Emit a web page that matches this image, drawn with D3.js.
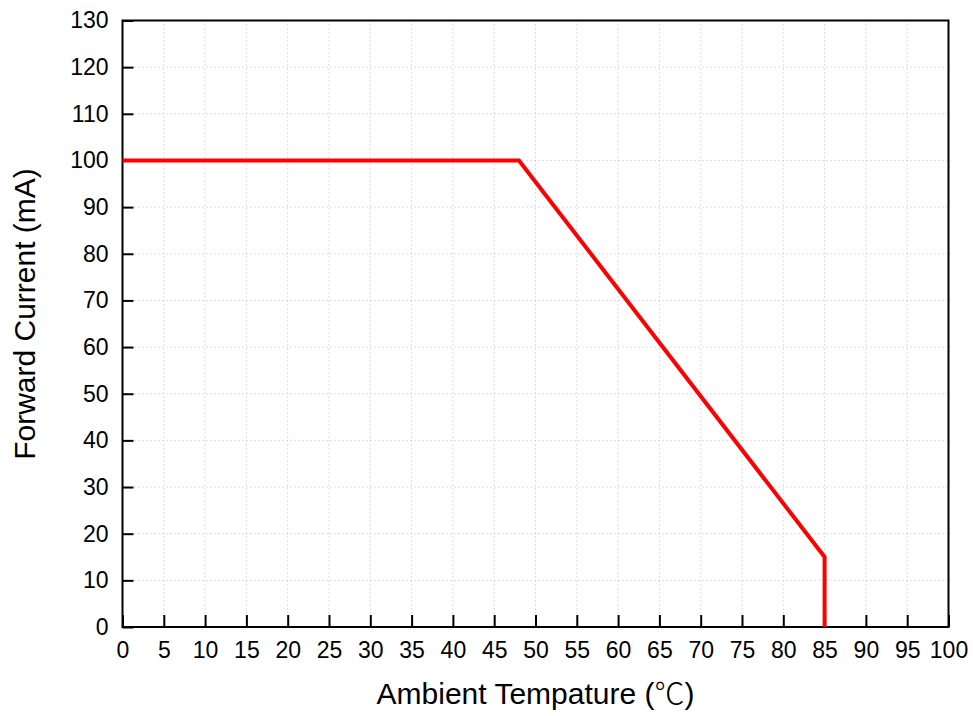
<!DOCTYPE html>
<html>
<head>
<meta charset="utf-8">
<script src="https://cdn.jsdelivr.net/npm/d3@7"></script>
<style>
  body { margin: 0; background: #fff; }
  text { font-family: "Liberation Sans", Arial, sans-serif; fill: #000; }
</style>
</head>
<body>
<svg id="chart" width="973" height="716"></svg>
<script>
// derating curve: forward current vs ambient temperature
const tempC = [0, 48, 85, 85];
const currentMA = [100, 100, 15, 0];
const xTicks = d3.range(0, 101, 5);
const yTicks = d3.range(0, 131, 10);

const margin = { top: 20.5, right: 24.5, bottom: 89, left: 122.5 };
const W = 973, H = 716;
const iw = W - margin.left - margin.right;
const ih = H - margin.top - margin.bottom;

const svg = d3.select('#chart');
const g = svg.append('g').attr('transform', `translate(${margin.left},${margin.top})`);

const x = d3.scaleLinear().domain([0, 100]).range([0, iw]);
const y = d3.scaleLinear().domain([0, 130]).range([ih, 0]);

// dotted grid
g.append('g').selectAll('line')
  .data(xTicks.filter(t => t > 0 && t < 100))
  .join('line')
  .attr('x1', d => x(d)).attr('x2', d => x(d))
  .attr('y1', 0).attr('y2', ih)
  .attr('stroke', '#bdbdbd').attr('stroke-width', 1)
  .attr('stroke-dasharray', '1,3');

g.append('g').selectAll('line')
  .data(yTicks.filter(t => t > 0 && t < 130))
  .join('line')
  .attr('x1', 0).attr('x2', iw)
  .attr('y1', d => y(d)).attr('y2', d => y(d))
  .attr('stroke', '#bdbdbd').attr('stroke-width', 1)
  .attr('stroke-dasharray', '1,3');

// axes with inward ticks
const xAxis = g.append('g')
  .attr('transform', `translate(0,${ih})`)
  .call(d3.axisBottom(x).tickValues(xTicks).tickSize(-12).tickPadding(15).tickSizeOuter(0));
const yAxis = g.append('g')
  .call(d3.axisLeft(y).tickValues(yTicks).tickSize(-11).tickPadding(14).tickSizeOuter(0));

[xAxis, yAxis].forEach(a => {
  a.select('.domain').remove();
  a.selectAll('.tick line').attr('stroke', '#000').attr('stroke-width', 2);
  a.selectAll('.tick text')
    .style('font-size', '23px')
    .style('font-family', '"Liberation Sans", Arial, sans-serif')
    .attr('fill', '#000');
});

// frame
g.append('rect')
  .attr('x', 0).attr('y', 0).attr('width', iw).attr('height', ih)
  .attr('fill', 'none').attr('stroke', '#000').attr('stroke-width', 2);

// curve
const pts = tempC.map((t, i) => [t, currentMA[i]]);
g.append('path')
  .datum(pts)
  .attr('fill', 'none')
  .attr('stroke', '#ff0000')
  .attr('stroke-width', 4)
  .attr('stroke-linejoin', 'miter')
  .attr('d', d3.line().x(d => x(d[0])).y(d => y(d[1])));

// axis titles
const xt = svg.append('text')
  .attr('x', margin.left + iw / 2).attr('y', 704)
  .attr('text-anchor', 'middle')
  .style('font-size', '30px');
xt.append('tspan').text('Ambient Tempature (');
xt.append('tspan').style('font-family', '"Noto Sans CJK JP", "Noto Sans CJK SC", sans-serif')
  .style('font-weight', 300).text('℃');
xt.append('tspan').text(')');

svg.append('text')
  .attr('transform', `translate(35,314) rotate(-90)`)
  .attr('text-anchor', 'middle')
  .style('font-size', '30px')
  .text('Forward Current (mA)');
</script>
</body>
</html>
